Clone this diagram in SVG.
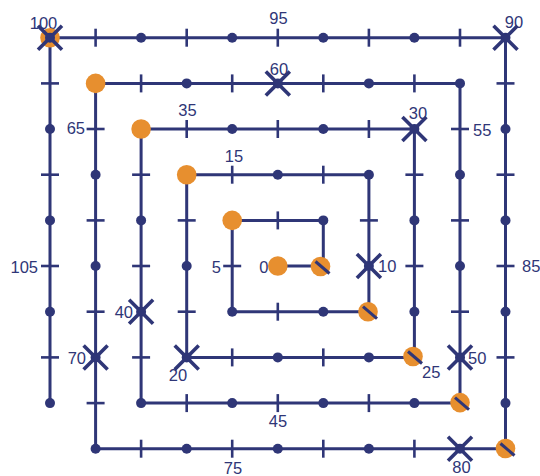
<svg xmlns="http://www.w3.org/2000/svg" width="540" height="476" viewBox="0 0 540 476">
<style>
.ln{fill:none;stroke:#2f3677;stroke-width:3;stroke-linejoin:miter}
.tk{stroke:#2f3677;stroke-width:2.6}
.xm{stroke:#2f3677;stroke-width:3.6}
.nv{fill:#2f3677}
.or{fill:#e78f2f}
.sl{stroke:#2f3677;stroke-width:3}
text{font-family:"Liberation Sans",Arial,sans-serif;font-size:16.5px;fill:#2f3677}
.m{text-anchor:middle}.e{text-anchor:end}
</style>
<defs>
<circle id="d" r="5" class="nv"/>
<line id="h" x1="-9" y1="0" x2="9" y2="0" class="tk"/>
<line id="v" x1="0" y1="-9" x2="0" y2="9" class="tk"/>
<g id="x"><circle r="5" class="nv"/><path d="M-12,-12L12,12M-12,12L12,-12" class="xm"/></g>
<circle id="o" r="9.8" class="or"/>
<g id="s"><circle r="9.8" class="or"/><path d="M-5,-5L9,7" class="sl"/></g>
</defs>
<g id="connectors">
<path class="ln" d="M277.8,266H323.3V220.4H232.2V311.7H368.9V174.7H186.7V357.4H414.4V129H141.1V403.1H460V83.4H95.6V448.7H505.5V37.7H50V403.1"/>
</g>
<g id="nodes">
<g id="n0"><text x="268.5" y="273" class="e">0</text><use href="#o" x="277.8" y="266"/></g>
<use id="n1" href="#s" x="320.5" y="266.5"/>
<use id="n2" href="#d" x="323.3" y="220.4"/>
<use id="n3" href="#v" x="277.8" y="220.4"/>
<use id="n4" href="#o" x="232.2" y="220.4"/>
<g id="n5"><text x="221" y="273" class="e">5</text><use href="#h" x="232.2" y="266"/></g>
<use id="n6" href="#d" x="232.2" y="311.7"/>
<use id="n7" href="#v" x="277.8" y="311.7"/>
<use id="n8" href="#d" x="323.3" y="311.7"/>
<use id="n9" href="#s" x="368" y="311.7"/>
<g id="n10"><text x="378" y="272">10</text><use href="#x" x="368.9" y="266"/></g>
<use id="n11" href="#h" x="368.9" y="220.4"/>
<use id="n12" href="#d" x="368.9" y="174.7"/>
<use id="n13" href="#v" x="323.3" y="174.7"/>
<use id="n14" href="#d" x="277.8" y="174.7"/>
<g id="n15"><text x="234" y="162" class="m">15</text><use href="#v" x="232.2" y="174.7"/></g>
<use id="n16" href="#o" x="186.7" y="174.7"/>
<use id="n17" href="#h" x="186.7" y="220.4"/>
<use id="n18" href="#d" x="186.7" y="266"/>
<use id="n19" href="#h" x="186.7" y="311.7"/>
<g id="n20"><text x="178" y="381" class="m">20</text><use href="#x" x="186.7" y="357.4"/></g>
<use id="n21" href="#v" x="232.2" y="357.4"/>
<use id="n22" href="#d" x="277.8" y="357.4"/>
<use id="n23" href="#v" x="323.3" y="357.4"/>
<use id="n24" href="#d" x="368.9" y="357.4"/>
<g id="n25"><text x="422" y="378">25</text><use href="#s" x="413" y="356.5"/></g>
<use id="n26" href="#d" x="414.4" y="311.7"/>
<use id="n27" href="#h" x="414.4" y="266"/>
<use id="n28" href="#d" x="414.4" y="220.4"/>
<use id="n29" href="#h" x="414.4" y="174.7"/>
<g id="n30"><text x="418" y="119" class="m">30</text><use href="#x" x="414.4" y="129"/></g>
<use id="n31" href="#v" x="368.9" y="129"/>
<use id="n32" href="#d" x="323.3" y="129"/>
<use id="n33" href="#v" x="277.8" y="129"/>
<use id="n34" href="#d" x="232.2" y="129"/>
<g id="n35"><text x="187.5" y="116" class="m">35</text><use href="#v" x="186.7" y="129"/></g>
<use id="n36" href="#o" x="141.1" y="129"/>
<use id="n37" href="#h" x="141.1" y="174.7"/>
<use id="n38" href="#d" x="141.1" y="220.4"/>
<use id="n39" href="#h" x="141.1" y="266"/>
<g id="n40"><text x="133" y="318" class="e">40</text><use href="#x" x="141.1" y="311.7"/></g>
<use id="n41" href="#h" x="141.1" y="357.4"/>
<use id="n42" href="#d" x="141.1" y="403.1"/>
<use id="n43" href="#v" x="186.7" y="403.1"/>
<use id="n44" href="#d" x="232.2" y="403.1"/>
<g id="n45"><text x="278" y="427" class="m">45</text><use href="#v" x="277.8" y="403.1"/></g>
<use id="n46" href="#d" x="323.3" y="403.1"/>
<use id="n47" href="#v" x="368.9" y="403.1"/>
<use id="n48" href="#d" x="414.4" y="403.1"/>
<use id="n49" href="#s" x="460" y="402.6"/>
<g id="n50"><text x="468" y="364">50</text><use href="#x" x="460" y="357.4"/></g>
<use id="n51" href="#h" x="460" y="311.7"/>
<use id="n52" href="#d" x="460" y="266"/>
<use id="n53" href="#h" x="460" y="220.4"/>
<use id="n54" href="#d" x="460" y="174.7"/>
<g id="n55"><text x="473" y="135.5">55</text><use href="#h" x="460" y="129"/></g>
<use id="n56" href="#d" x="460" y="83.4"/>
<use id="n57" href="#v" x="414.4" y="83.4"/>
<use id="n58" href="#d" x="368.9" y="83.4"/>
<use id="n59" href="#v" x="323.3" y="83.4"/>
<g id="n60"><text x="279" y="75" class="m">60</text><use href="#x" x="277.8" y="83.4"/></g>
<use id="n61" href="#v" x="232.2" y="83.4"/>
<use id="n62" href="#d" x="186.7" y="83.4"/>
<use id="n63" href="#v" x="141.1" y="83.4"/>
<use id="n64" href="#o" x="95.6" y="83.4"/>
<g id="n65"><text x="85" y="134" class="e">65</text><use href="#h" x="95.6" y="129"/></g>
<use id="n66" href="#d" x="95.6" y="174.7"/>
<use id="n67" href="#h" x="95.6" y="220.4"/>
<use id="n68" href="#d" x="95.6" y="266"/>
<use id="n69" href="#h" x="95.6" y="311.7"/>
<g id="n70"><text x="86" y="364" class="e">70</text><use href="#x" x="95.6" y="357.4"/></g>
<use id="n71" href="#h" x="95.6" y="403.1"/>
<use id="n72" href="#d" x="95.6" y="448.7"/>
<use id="n73" href="#v" x="141.1" y="448.7"/>
<use id="n74" href="#d" x="186.7" y="448.7"/>
<g id="n75"><text x="233" y="473.5" class="m">75</text><use href="#v" x="232.2" y="448.7"/></g>
<use id="n76" href="#d" x="277.8" y="448.7"/>
<use id="n77" href="#v" x="323.3" y="448.7"/>
<use id="n78" href="#d" x="368.9" y="448.7"/>
<use id="n79" href="#v" x="414.4" y="448.7"/>
<g id="n80"><text x="461.5" y="473" class="m">80</text><use href="#x" x="460" y="448.7"/></g>
<use id="n81" href="#s" x="505.5" y="448.5"/>
<use id="n82" href="#d" x="505.5" y="403.1"/>
<use id="n83" href="#h" x="505.5" y="357.4"/>
<use id="n84" href="#d" x="505.5" y="311.7"/>
<g id="n85"><text x="522" y="272">85</text><use href="#h" x="505.5" y="266"/></g>
<use id="n86" href="#d" x="505.5" y="220.4"/>
<use id="n87" href="#h" x="505.5" y="174.7"/>
<use id="n88" href="#d" x="505.5" y="129"/>
<use id="n89" href="#h" x="505.5" y="83.4"/>
<g id="n90"><text x="514" y="28" class="m">90</text><use href="#x" x="505.5" y="37.7"/></g>
<use id="n91" href="#v" x="460" y="37.7"/>
<use id="n92" href="#d" x="414.4" y="37.7"/>
<use id="n93" href="#v" x="368.9" y="37.7"/>
<use id="n94" href="#d" x="323.3" y="37.7"/>
<g id="n95"><text x="278.5" y="24.3" class="m">95</text><use href="#v" x="277.8" y="37.7"/></g>
<use id="n96" href="#d" x="232.2" y="37.7"/>
<use id="n97" href="#v" x="186.7" y="37.7"/>
<use id="n98" href="#d" x="141.1" y="37.7"/>
<use id="n99" href="#v" x="95.6" y="37.7"/>
<g id="n100"><text x="43.5" y="28.5" class="m">100</text><use href="#o" x="50" y="37.7"/><use href="#x" x="50" y="37.7"/></g>
<use id="n101" href="#h" x="50" y="83.4"/>
<use id="n102" href="#d" x="50" y="129"/>
<use id="n103" href="#h" x="50" y="174.7"/>
<use id="n104" href="#d" x="50" y="220.4"/>
<g id="n105"><text x="38" y="273" class="e">105</text><use href="#h" x="50" y="266"/></g>
<use id="n106" href="#d" x="50" y="311.7"/>
<use id="n107" href="#h" x="50" y="357.4"/>
<use id="n108" href="#d" x="50" y="403.1"/>
</g>
</svg>
